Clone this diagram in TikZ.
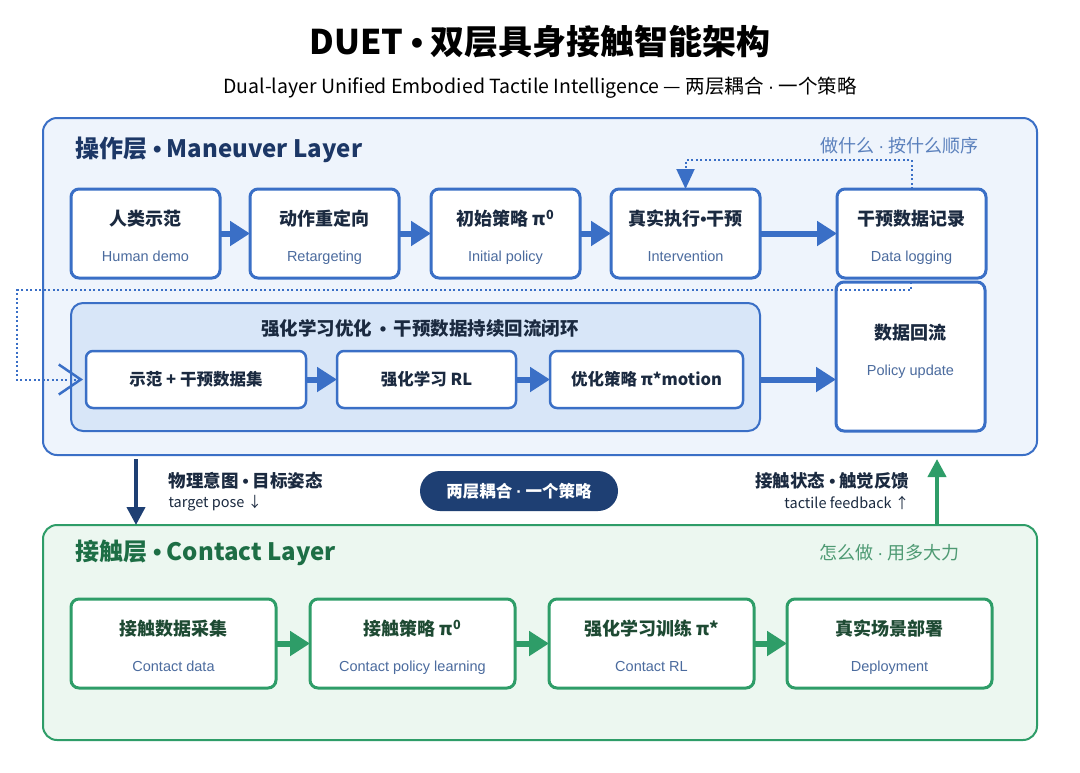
\documentclass[tikz,border=0pt]{standalone}
\usepackage{fontspec}
\setmainfont{Liberation Sans}
\newfontfamily\cjk{Noto Sans CJK SC}
\usepackage{tikz}
\usetikzlibrary{arrows.meta,positioning}
\usepackage{xcolor}

\definecolor{mblue}{HTML}{3A6FC6}
\definecolor{mfill}{HTML}{EEF4FC}
\definecolor{rlfill}{HTML}{D8E6F8}
\definecolor{navy}{HTML}{1C3766}
\definecolor{boxtxt}{HTML}{1B2A40}
\definecolor{engtxt}{HTML}{4B6B9E}
\definecolor{notetxt}{HTML}{5A80BC}
\definecolor{pillfill}{HTML}{1E3F73}
\definecolor{cgreen}{HTML}{2E9D68}
\definecolor{cfill}{HTML}{ECF7F0}
\definecolor{cgtitle}{HTML}{1D6E45}
\definecolor{cgnote}{HTML}{4E9A73}
\definecolor{cboxtxt}{HTML}{1E4A33}

% separators set in the latin font (narrow, not full width)
\newcommand{\bul}{{\rmfamily •}}
\newcommand{\mdot}{{\rmfamily ·}}
% two-line box content: bold title + english line
\newcommand{\twol}[2]{{\cjk\bfseries\rule{0pt}{20pt}#1}\\[14pt]{\fontsize{14.5}{17}\selectfont\color{engtxt}\smash{#2}}}

\begin{document}
\begin{tikzpicture}[x=1pt, y=-1pt,
  layer/.style={draw=mblue, line width=2pt, rounded corners=14pt, fill=mfill,
                minimum width=994pt, inner sep=0pt, outer sep=0pt},
  box/.style={draw=mblue, line width=3pt, rounded corners=8pt, fill=white, align=center,
              minimum width=149pt, minimum height=89pt, inner sep=0pt, outer sep=0pt,
              text=boxtxt, font=\fontsize{18}{22}\selectfont},
  cbox/.style={box, draw=cgreen, minimum width=205pt, text=cboxtxt},
  sbox/.style={draw=mblue, line width=2.5pt, rounded corners=7pt, fill=white,
               minimum height=57pt, inner sep=0pt, outer sep=0pt, text=boxtxt,
               font=\cjk\bfseries\fontsize{16.5}{20}\selectfont},
  ltitle/.style={anchor=west, font=\cjk\bfseries\fontsize{24}{28}\selectfont},
  note/.style={anchor=east, font=\cjk\fontsize{18}{22}\selectfont},
  flow/.style={draw=mblue, line width=6pt, -{Triangle[length=20pt,width=24pt]}},
  cflow/.style={flow, draw=cgreen},
  loop/.style={draw=mblue, line width=2pt, dash pattern=on 2pt off 2.5pt}]

  \useasboundingbox[fill=white] (0,0) rectangle (1080,772);

  % titles
  \node[font=\cjk\bfseries\fontsize{34}{38}\selectfont] (title) at (540,42) {DUET \bul{} 双层具身接触智能架构};
  \node[font=\cjk\fontsize{19.5}{22}\selectfont] (sub) at (540,88)
    {Dual-layer Unified Embodied Tactile Intelligence — 两层耦合 \mdot{} 一个策略};

  % maneuver layer
  \node[layer, minimum height=337pt] (man) at (540,286.5) {};
  \node[ltitle, text=navy] (mant) at (72,150) {操作层 \bul{} Maneuver Layer};
  \node[note, text=notetxt] (mann) at (982,146) {做什么 \mdot{} 按什么顺序};

  \node[box] (demo) at (145.5,233.5) {\twol{人类示范}{Human demo}};
  \node[box, right=30pt of demo] (ret) {\twol{动作重定向}{Retargeting}};
  \node[box, right=32pt of ret] (init) {\twol{初始策略 π\textsuperscript{0}}{Initial policy}};
  \node[box, right=31pt of init] (intv) {\twol{真实执行\bul{}干预}{Intervention}};
  \node[box, right=77pt of intv] (log) {\twol{干预数据记录}{Data logging}};
  \draw[flow] (demo) -- (ret);
  \draw[flow] (ret) -- (init);
  \draw[flow] (init) -- (intv);
  \draw[flow] (intv) -- (log);

  % RL loop
  \node[draw=mblue, line width=2pt, rounded corners=12pt, fill=rlfill, minimum width=689pt,
        minimum height=128pt, inner sep=0pt, outer sep=0pt] (rl) at (415.5,367) {};
  \node[font=\cjk\bfseries\fontsize{18.5}{21}\selectfont, text=boxtxt] (rlt) at (420,328)
    {强化学习优化 \,\bul{}\, 干预数据持续回流闭环};
  \node[sbox, minimum width=220pt] (set) at (196,379.5) {示范 + 干预数据集};
  \node[sbox, minimum width=179pt, right=31pt of set] (rlrl) {强化学习 RL};
  \node[sbox, minimum width=193pt, right=34pt of rlrl] (opt) {优化策略 π*motion};
  \draw[flow] (set) -- (rlrl);
  \draw[flow] (rlrl) -- (opt);

  \node[box, minimum height=149pt] (upd) at (910.5,356.5) {\twol{数据回流}{Policy update}\rule[-19pt]{0pt}{19pt}};
  \draw[flow] (rl.east |- opt) -- (upd.west |- opt);

  % dotted feedback paths
  \coordinate (toploop) at (0,160);
  \draw[loop, -{Triangle[length=20pt,width=18pt]}] (log.north) |- (toploop -| intv) -- (intv.north);
  \coordinate (leftloop) at (17,290);
  \draw[loop, -{Straight Barb[length=22pt,width=30pt,line width=2.5pt]}]
    (upd.north) -- ++(0,8) -| (leftloop) |- ([xshift=-3pt]set.west);

  % coupling between layers
  \node[layer, draw=cgreen, fill=cfill, minimum height=215pt] (con) at (540,632.5) {};
  \draw[draw=pillfill, line width=4pt, -{Triangle[length=18pt,width=18pt]}]
    ([xshift=93pt,yshift=-4pt]man.south west) -- ([xshift=93pt]con.north west);
  \draw[draw=cgreen, line width=4pt, -{Triangle[length=18pt,width=18pt]}]
    ([xshift=-100pt]con.north east) -- ([xshift=-100pt,yshift=-4pt]man.south east);
  \node[anchor=west, font=\cjk\bfseries\fontsize{17.5}{20}\selectfont, text=boxtxt] (intent) at (165,481) {物理意图 \bul{} 目标姿态};
  \node[anchor=west, font=\cjk\fontsize{14.5}{17}\selectfont, text=boxtxt] (pose) at (165,503) {target pose ↓};
  \node[anchor=east, font=\cjk\bfseries\fontsize{17.5}{20}\selectfont, text=boxtxt] (state) at (913,481) {接触状态 \bul{} 触觉反馈};
  \node[anchor=east, font=\cjk\fontsize{14.5}{17}\selectfont, text=boxtxt] (fb) at (913,503) {tactile feedback ↑};
  \node[fill=pillfill, rounded corners=20pt, minimum width=198pt, minimum height=40pt,
        text=white, font=\cjk\bfseries\fontsize{16.5}{20}\selectfont] (pill) at (519,491) {两层耦合 \mdot{} 一个策略};

  % contact layer
  \node[ltitle, text=cgtitle] (cont) at (72,553) {接触层 \bul{} Contact Layer};
  \node[note, text=cgnote] (conn) at (963,553) {怎么做 \mdot{} 用多大力};
  \node[cbox] (cdata) at (173.5,643.5) {\twol{接触数据采集}{Contact data}};
  \node[cbox, right=34pt of cdata] (cpol) {\twol{接触策略 π\textsuperscript{0}}{Contact policy learning}};
  \node[cbox, right=34pt of cpol] (crl) {\twol{强化学习训练 π*}{Contact RL}};
  \node[cbox, right=33pt of crl] (dep) {\twol{真实场景部署}{Deployment}};
  \draw[cflow] (cdata) -- (cpol);
  \draw[cflow] (cpol) -- (crl);
  \draw[cflow] (crl) -- (dep);
\end{tikzpicture}
\end{document}
